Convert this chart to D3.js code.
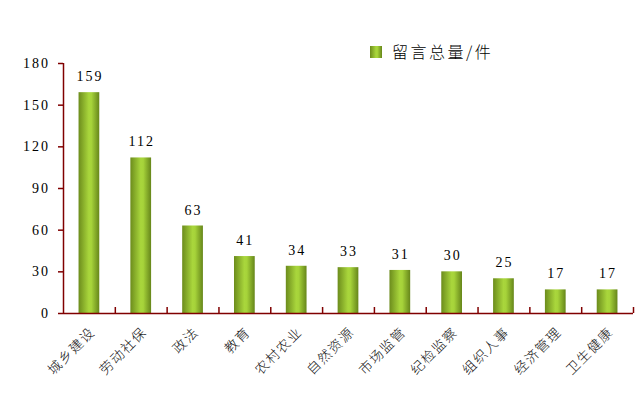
<!DOCTYPE html>
<meta charset="utf-8">
<svg id="chart" width="642" height="400"></svg>
<style>
  body { margin: 0; background: #fff; }
  .num { font-family: "Liberation Serif", "DejaVu Serif", serif; font-size: 14px; fill: #000; letter-spacing: 2px; }
  .cat { font-family: "Noto Sans CJK SC", sans-serif; font-size: 13.5px; font-weight: 300; fill: #111; letter-spacing: 1.5px; }
</style>
<script src="https://d3js.org/d3.v7.min.js"></script>
<script>
  var categories = ["城乡建设", "劳动社保", "政法", "教育", "农村农业", "自然资源", "市场监管", "纪检监察", "组织人事", "经济管理", "卫生健康"]
  var values = [159, 112, 63, 41, 34, 33, 31, 30, 25, 17, 17]
  var yTicks = [0, 30, 60, 90, 120, 150, 180]
  var seriesName = "留言总量/件"

  var margin = {top: 63, right: 9, bottom: 87, left: 63}
  var svg = d3.select("#chart")
  var width = 642 - margin.left - margin.right
  var height = 400 - margin.top - margin.bottom
  var axisColor = "#800000"

  // gradient for the bars
  var defs = svg.append("defs")
  var grad = defs.append("linearGradient").attr("id", "barGrad")
    .attr("x1", "0%").attr("x2", "100%").attr("y1", "0%").attr("y2", "0%")
  grad.append("stop").attr("offset", "0%").attr("stop-color", "#6c8c1c")
  grad.append("stop").attr("offset", "50%").attr("stop-color", "#a9d63c")
  grad.append("stop").attr("offset", "62%").attr("stop-color", "#a6d33a")
  grad.append("stop").attr("offset", "100%").attr("stop-color", "#66861a")

  var g = svg.append("g").attr("transform", "translate(" + margin.left + "," + margin.top + ")")

  var x = d3.scaleBand().domain(categories).range([0, width]).paddingInner(0.6).paddingOuter(0.3)
  var xb = d3.scaleLinear().domain([0, categories.length]).range([0, width])
  var y = d3.scaleLinear().domain([0, 180]).range([height, 0])

  // bars
  g.selectAll(".bar")
    .data(values)
    .enter()
    .append("rect")
    .attr("class", "bar")
    .attr("x", (d, i) => xb(i + 0.5) - x.bandwidth() / 2)
    .attr("width", x.bandwidth())
    .attr("y", (d) => y(d))
    .attr("height", (d) => height - y(d))
    .attr("fill", "url(#barGrad)")

  // value labels
  g.selectAll(".val")
    .data(values)
    .enter()
    .append("text")
    .attr("class", "num")
    .attr("x", (d, i) => xb(i + 0.5) + 1)
    .attr("y", (d) => y(d) - 11)
    .attr("text-anchor", "middle")
    .text((d) => d)

  // y axis
  var yAxis = g.append("g")
    .call(d3.axisLeft(y).tickValues(yTicks).tickSize(5).tickPadding(8))
  yAxis.select(".domain").attr("stroke", axisColor).attr("stroke-width", 1.5).attr("d", "M0.5," + height + "V0")
  yAxis.selectAll(".tick line").attr("stroke", axisColor).attr("stroke-width", 1.5)
  yAxis.selectAll(".tick text").attr("class", "num").attr("fill", "#000").style("font-size", null)
  yAxis.attr("font-family", null).attr("font-size", null)

  // x axis with ticks at category boundaries pointing inward
  var xAxis = g.append("g").attr("transform", "translate(0," + height + ")")
    .call(d3.axisBottom(xb).tickValues(d3.range(1, categories.length + 1)).tickSize(-6).tickFormat(""))
  xAxis.select(".domain").attr("stroke", axisColor).attr("stroke-width", 1.5).attr("d", "M0," + 0.5 + "H" + width)
  xAxis.selectAll(".tick line").attr("stroke", axisColor).attr("stroke-width", 1.5)

  // category labels rotated
  g.selectAll(".cat")
    .data(categories)
    .enter()
    .append("text")
    .attr("class", "cat")
    .attr("text-anchor", "end")
    .attr("transform", (d, i) => "translate(" + (xb(i + 0.5) + 7) + "," + (height + 20) + ") rotate(-45)")
    .text((d) => d)

  // legend
  var leg = svg.append("g").attr("transform", "translate(370,46)")
  leg.append("rect").attr("width", 12).attr("height", 12).attr("fill", "url(#barGrad)")
  leg.append("text").attr("x", 22).attr("y", 12)
    .style("font-family", "'Noto Sans CJK SC', sans-serif").style("font-size", "16px").style("font-weight", "300").style("letter-spacing", "2.5px")
    .text(seriesName)
</script>
